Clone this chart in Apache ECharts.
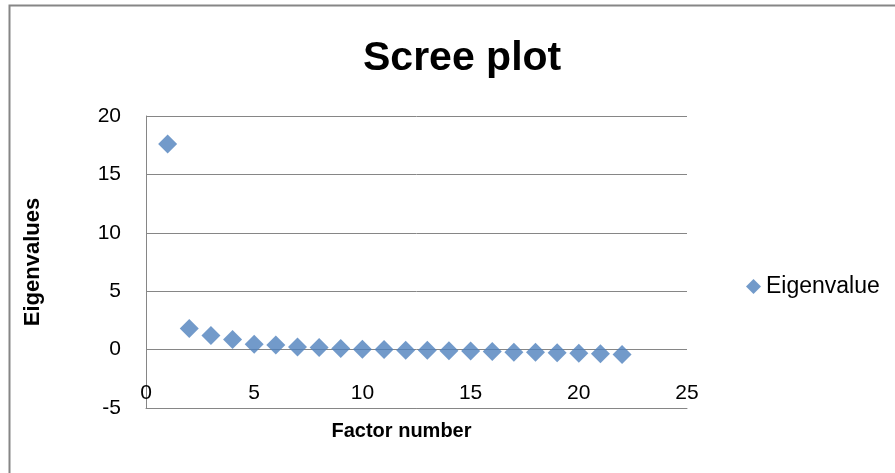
<!DOCTYPE html>
<html>
<head>
<meta charset="utf-8">
<script src="https://cdn.jsdelivr.net/npm/echarts@6/dist/echarts.min.js"></script>
<style>
html,body{margin:0;padding:0;background:#fff;}
#chart{width:895px;height:473px;}
</style>
</head>
<body>
<div id="chart"></div>
<script>
const titleText = 'Scree plot';
const seriesName = 'Eigenvalue';
const xAxisName = 'Factor number';
const yAxisName = 'Eigenvalues';
const factorNumbers = [1,2,3,4,5,6,7,8,9,10,11,12,13,14,15,16,17,18,19,20,21,22];
const eigenvalues = [17.6,1.8,1.2,0.86,0.45,0.4,0.23,0.17,0.09,0.03,0.0,-0.06,-0.05,-0.1,-0.12,-0.17,-0.22,-0.23,-0.27,-0.32,-0.36,-0.42];

const FONT = '"Liberation Sans", Arial, sans-serif';
const chart = echarts.init(document.getElementById('chart'), null, {renderer:'canvas'});
chart.setOption({
  animation: false,
  backgroundColor: '#ffffff',
  textStyle: {fontFamily: FONT},
  graphic: [{
    type: 'rect', left: 7, top: 3,
    shape: {width: 960, height: 560},
    style: {fill: 'none', stroke: '#868686', lineWidth: 2},
    silent: true
  }],
  title: {
    text: titleText, left: 358, top: 33,
    textStyle: {fontFamily: FONT, fontSize: 41, fontWeight: 'bold', color: '#000'}
  },
  legend: {
    left: 741, top: 270, orient: 'vertical',
    icon: 'diamond', itemWidth: 15, itemHeight: 15, itemGap: 5,
    textStyle: {fontFamily: FONT, fontSize: 23, color: '#000'},
    data: [seriesName]
  },
  grid: {left: 146, right: 208, top: 116, bottom: 65},
  xAxis: {
    type: 'value', min: 0, max: 25, interval: 5,
    name: xAxisName, nameLocation: 'middle', nameGap: 13,
    nameTextStyle: {fontFamily: FONT, fontSize: 20, fontWeight: 'bold', color: '#000', padding: [0, 30, 0, 0]},
    axisLine: {show: true, onZero: false, lineStyle: {color: '#868686', width: 1}},
    axisTick: {show: false},
    axisLabel: {inside: true, margin: 4, fontFamily: FONT, fontSize: 21, color: '#000'},
    splitLine: {show: false}
  },
  yAxis: {
    type: 'value', min: -5, max: 20, interval: 5,
    name: yAxisName, nameLocation: 'middle', nameGap: 102, nameRotate: 90,
    nameTextStyle: {fontFamily: FONT, fontSize: 22, fontWeight: 'bold', color: '#000'},
    axisLine: {show: true, lineStyle: {color: '#868686', width: 1}},
    axisTick: {show: false},
    axisLabel: {margin: 25, fontFamily: FONT, fontSize: 21, color: '#000'},
    splitLine: {show: true, lineStyle: {color: '#868686', width: 1}}
  },
  series: [{
    name: seriesName, type: 'scatter',
    symbol: 'diamond', symbolSize: 19,
    itemStyle: {color: '#4f81bd'},
    data: factorNumbers.map((x, i) => [x, eigenvalues[i]])
  }]
});
</script>
</body>
</html>
